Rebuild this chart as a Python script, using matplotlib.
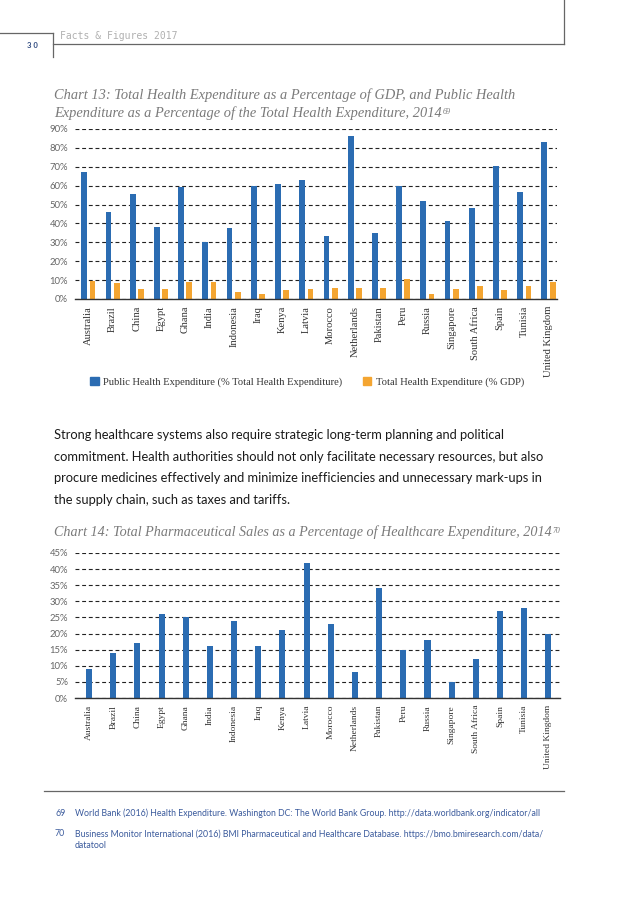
import numpy as np
import matplotlib.pyplot as plt
from matplotlib.patches import Patch

# Données
countries = ["Australia", "Brazil", "China", "Egypt", "Ghana", "India", "Indonesia",
             "Iraq", "Kenya", "Latvia", "Morocco", "Netherlands", "Pakistan", "Peru",
             "Russia", "Singapore", "South Africa", "Spain", "Tunisia", "United Kingdom"]

public_health = [67, 46, 55.5, 38, 59.5, 30, 37.5, 60, 61, 63, 33.5, 86.5, 35, 60,
                 52, 41.5, 48, 70.5, 56.5, 83]
total_health_gdp = [9.4, 8.3, 5.5, 5.5, 9.0, 9.0, 3.5, 2.8, 4.6, 5.5, 5.8, 5.8, 5.8, 10.8,
                    2.7, 5.5, 7.0, 4.8, 7.0, 8.8]

pharma_sales = [9, 14, 17, 26, 25, 16, 24, 16, 21, 42, 23, 8, 34, 15, 18, 5, 12, 27, 28, 20]

ticks13 = [0, 10, 20, 30, 40, 50, 60, 70, 80, 90]
ticks14 = [0, 5, 10, 15, 20, 25, 30, 35, 40, 45]

paragraph = [
    "Strong healthcare systems also require strategic long-term planning and political",
    "commitment. Health authorities should not only facilitate necessary resources, but also",
    "procure medicines effectively and minimize inefficiencies and unnecessary mark-ups in",
    "the supply chain, such as taxes and tariffs.",
]

blue = "#2b6cb2"
orange = "#f4a531"
grey_title = "#7a7a7a"
serif = "Liberation Serif"
sans = "Lato"

W, H = 638, 906
fig = plt.figure(figsize=(W / 100, H / 100), dpi=100)


def fx(px):
    return px / W


def fy(py):
    return 1 - py / H


def style_axes(ax, ticks, xlabel_size, pad):
    ax.set_yticks(ticks)
    ax.set_yticklabels([f"{t}%" for t in ticks], fontsize=6.8, color="#666666", family=sans)
    ax.yaxis.grid(True, linestyle=(0, (3.5, 2.5)), color="#222222", lw=0.8)
    ax.set_axisbelow(True)
    for s in ["left", "top", "right"]:
        ax.spines[s].set_visible(False)
    ax.spines["bottom"].set_color("#333333")
    ax.spines["bottom"].set_linewidth(1.0)
    ax.tick_params(length=0, pad=pad)
    ax.tick_params(axis="y", pad=5)
    ax.set_xticks(np.arange(len(countries)))
    ax.set_xticklabels(countries, rotation=90, fontsize=xlabel_size, family=serif,
                       color="#333333", va="top")


def title_with_note(x, y, lines, note, size):
    texts = []
    for i, ln in enumerate(lines):
        texts.append(fig.text(fx(x), fy(y + i * 18), ln, fontsize=size, style="italic",
                              family=serif, color=grey_title, va="center"))
    fig.canvas.draw()
    bb = texts[-1].get_window_extent()
    fig.text(bb.x1 / W + 0.001, bb.y1 / H - 0.006, note, fontsize=size * 0.55,
             style="italic", family=serif, color=grey_title, va="center")


# En-tête
fig.add_artist(plt.Line2D([0, fx(53)], [fy(33), fy(33)], color="#666666", lw=0.9))
fig.add_artist(plt.Line2D([fx(53), fx(53)], [fy(33), fy(57)], color="#666666", lw=0.9))
fig.add_artist(plt.Line2D([fx(53), fx(564)], [fy(44), fy(44)], color="#666666", lw=0.9))
fig.add_artist(plt.Line2D([fx(564), fx(564)], [fy(0), fy(44)], color="#666666", lw=0.9))
fig.text(fx(60), fy(36), "Facts & Figures 2017", fontsize=7,
         family="DejaVu Sans Mono", color="#b0b0b0", va="center")
fig.text(fx(27), fy(45), "3 0", fontsize=5.5, family=sans, weight="bold",
         color="#2f4a80", va="center")

# Chart 13
title_with_note(54, 95, ["Chart 13: Total Health Expenditure as a Percentage of GDP, and Public Health",
                         "Expenditure as a Percentage of the Total Health Expenditure, 2014"], "69", 10.4)

ax1 = fig.add_axes([fx(75), fy(299), fx(557) - fx(75), (299 - 129) / H])
x = np.arange(len(countries))
ax1.bar(x - 0.17, public_health, width=0.24, color=blue)
ax1.bar(x + 0.17, total_health_gdp, width=0.24, color=orange)
ax1.set_ylim(0, 90)
ax1.set_xlim(-0.55, 19.35)
style_axes(ax1, ticks13, 7.6, 5)

handles = [Patch(color=blue), Patch(color=orange)]
fig.legend(handles, ["Public Health Expenditure (% Total Health Expenditure)",
                     "Total Health Expenditure (% GDP)"],
           loc="center", bbox_to_anchor=(fx(307), fy(382)), ncol=2, frameon=False,
           prop={"family": serif, "size": 7.6}, handlelength=0.8, handleheight=0.8,
           handletextpad=0.4, columnspacing=2.0, labelcolor="#333333")

# Paragraphe
for i, ln in enumerate(paragraph):
    fig.text(fx(54), fy(435 + i * 21.7), ln, fontsize=9.3, family=sans,
             color="#1a1a1a", va="center")

# Chart 14
title_with_note(54, 532, ["Chart 14: Total Pharmaceutical Sales as a Percentage of Healthcare Expenditure, 2014"],
                "70", 10.2)

ax2 = fig.add_axes([fx(75), fy(698), fx(560) - fx(75), (698 - 553) / H])
ax2.bar(x, pharma_sales, width=0.25, color=blue)
ax2.set_ylim(0, 45)
ax2.set_xlim(-0.58, 19.48)
style_axes(ax2, ticks14, 6.8, 5)

# Notes de bas de page
fig.add_artist(plt.Line2D([fx(44), fx(564)], [fy(791), fy(791)], color="#666666", lw=0.9))
notes = [
    ("69", "World Bank (2016) Health Expenditure. Washington DC: The World Bank Group. http://data.worldbank.org/indicator/all", 813),
    ("70", "Business Monitor International (2016) BMI Pharmaceutical and Healthcare Database. https://bmo.bmiresearch.com/data/", 834),
    ("", "datatool", 846),
]
for num, txt, yy in notes:
    if num:
        fig.text(fx(55), fy(yy), num, fontsize=6.3, family=sans, color="#3a5a9c", va="center")
    fig.text(fx(75), fy(yy), txt, fontsize=6.3, family=sans, color="#3a5a9c", va="center")

fig.savefig("out.png", dpi=100, facecolor="white")
